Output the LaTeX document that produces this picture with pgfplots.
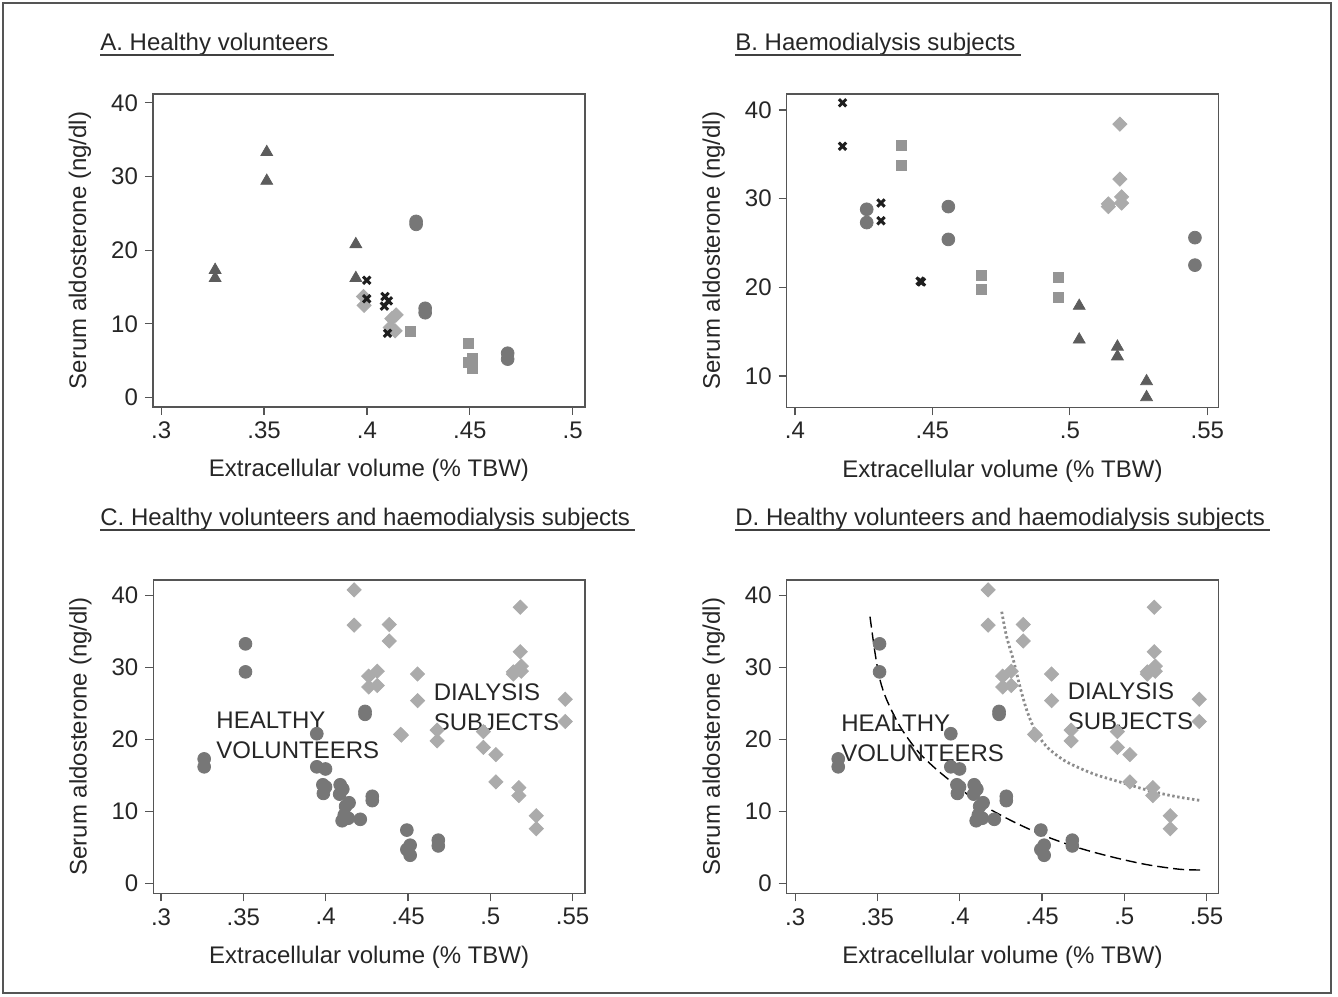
\documentclass[border=0pt]{standalone}
\usepackage{fontspec}
\setmainfont{Liberation Sans}
\usepackage{pgfplots}
\pgfplotsset{compat=1.18}
\usepackage{pgfplotstable}

\definecolor{axgray}{HTML}{555555}
\definecolor{triC}{HTML}{5C5C5C}
\definecolor{cirC}{HTML}{777777}
\definecolor{sqC}{HTML}{959595}
\definecolor{diaC}{HTML}{ABABAB}
\definecolor{xC}{HTML}{1E1E1E}

% panel A: healthy volunteers
\pgfplotstableread{
x y
.3262 17.3
.3262 16.2
.3513 33.3
.3513 29.4
.3946 20.8
.3946 16.2
}\Atri
\pgfplotstableread{
x y
.3999 15.9
.3999 13.4
.4088 13.7
.4104 13.1
.4085 12.4
.4100 8.7
}\Ax
\pgfplotstableread{
x y
.3983 13.7
.3986 12.5
.4121 10.7
.4142 11.2
.4113 9.5
.4137 9.05
}\Adia
\pgfplotstableread{
x y
.4210 8.9
.4493 7.4
.4513 5.3
.4493 4.7
.4513 3.9
}\Asq
\pgfplotstableread{
x y
.4239 23.5
.4239 23.9
.4283 12.1
.4283 11.5
.4684 6.0
.4684 5.2
}\Acir

% panel B: haemodialysis subjects
\pgfplotstableread{
x y
.4173 40.8
.4173 35.9
.4313 29.5
.4313 27.5
.4455 20.7
.4460 20.6
}\Bx
\pgfplotstableread{
x y
.4386 36.0
.4386 33.7
.4677 21.3
.4677 19.8
.4958 21.1
.4958 18.9
}\Bsq
\pgfplotstableread{
x y
.4261 28.8
.4261 27.3
.4558 29.1
.4558 25.4
.5455 25.6
.5455 22.5
}\Bcir
\pgfplotstableread{
x y
.5034 17.9
.5034 14.1
.5173 13.3
.5173 12.2
.5279 9.4
.5279 7.6
}\Btri
\pgfplotstableread{
x y
.5182 38.4
.5182 32.2
.5188 30.2
.5188 29.5
.5140 29.4
.5140 29.1
}\Bdia

% fitted curves in panel D
\pgfplotstableread{
x y
.3455 37.08
.3486 31.98
.3516 28.27
.3557 25.49
.3638 21.78
.3739 18.54
.3840 16.22
.3962 13.90
.4123 11.12
.4326 8.57
.4528 6.49
.4731 4.87
.4933 3.62
.5136 2.60
.5338 1.95
.5476 1.85
}\fitHV
\pgfplotstableread{
x y
.4255 37.77
.4285 34.30
.4326 31.05
.4366 27.35
.4407 24.10
.4457 21.32
.4528 19.00
.4630 17.15
.4731 15.99
.4832 15.06
.4933 14.37
.5034 13.67
.5136 12.98
.5237 12.42
.5338 11.96
.5470 11.49
}\fitHD

\pgfplotsset{
  stata/.style={
    scale only axis, clip=false,
    axis line style={draw=axgray, line width=0.6pt},
    tick style={draw=axgray, line width=0.6pt},
    tick align=outside, major tick length=4pt,
    xtick pos=left, ytick pos=left,
    tick label style={font=\fontsize{12}{14}\selectfont, text=black!85},
    label style={font=\fontsize{12}{14}\selectfont, text=black!85},
    /pgf/number format/assume math mode=true,
    xlabel={Extracellular volume (\% TBW)},
    ylabel={Serum aldosterone (ng/dl)},
    ylabel style={at={(axis description cs:-0.169,0.5)}, anchor=center},
    xlabel style={at={(axis description cs:0.5,-0.203)}, anchor=center},
  },
  mtri/.style={only marks, mark=triangle*, mark size=3.4pt, color=triC},
  mcir/.style={only marks, mark=*, mark size=3.2pt, color=cirC},
  msq/.style={only marks, mark=square*, mark size=2.5pt, color=sqC},
  mdia/.style={only marks, mark=square*, mark size=2.5pt, color=diaC, mark options={rotate=45}},
  mx/.style={only marks, mark=x, mark size=2.6pt, color=xC, mark options={line width=1.5pt}},
}

\begin{document}
\begin{tikzpicture}
\useasboundingbox (0,0) rectangle (669pt,498pt);
\draw[axgray, line width=0.6pt] (1.5pt,1.5pt) rectangle (665.5pt,496.5pt);

\tikzset{ttl/.style={anchor=base west, inner sep=0pt, font=\fontsize{12}{14}\selectfont, text=black!85}}
\node[ttl] (tA) at (50pt,472.5pt) {A. Healthy volunteers};
\node[ttl] (tB) at (367.5pt,472.5pt) {B. Haemodialysis subjects};
\node[ttl] (tC) at (50pt,235pt) {C. Healthy volunteers and haemodialysis subjects};
\node[ttl] (tD) at (367.5pt,235pt) {D. Healthy volunteers and haemodialysis subjects};
\foreach \t in {tA,tB,tC,tD}
  \draw[black!75, line width=1pt] ([yshift=-2.2pt]\t.base west) -- ([yshift=-2.2pt,xshift=2.5pt]\t.base east);

% A
\begin{axis}[stata, at={(76.5pt,294.5pt)}, anchor=south west,
  width=216pt, height=156.5pt,
  xmin=.296, xmax=.506, ymin=-1.3, ymax=41.2,
  xtick={.3,.35,.4,.45,.5}, xticklabels={.3,.35,.4,.45,.5},
  ytick={0,10,20,30,40}]
\addplot[mtri] table {\Atri};
\addplot[mdia] table {\Adia};
\addplot[msq] table {\Asq};
\addplot[mcir] table {\Acir};
\addplot[mx] table {\Ax};
\end{axis}

% B
\begin{axis}[stata, at={(393.35pt,294.35pt)}, anchor=south west,
  width=215.8pt, height=156.65pt,
  xmin=.397, xmax=.554, ymin=6.47, ymax=41.8,
  xtick={.4,.45,.5,.55}, xticklabels={.4,.45,.5,.55},
  ytick={10,20,30,40}]
\addplot[mtri] table {\Btri};
\addplot[mdia] table {\Bdia};
\addplot[msq] table {\Bsq};
\addplot[mcir] table {\Bcir};
\addplot[mx] table {\Bx};
\end{axis}

% C
\begin{axis}[stata, at={(76.65pt,51.35pt)}, anchor=south west,
  width=215.85pt, height=156.65pt,
  xmin=.2953, xmax=.5575, ymin=-1.39, ymax=42.18,
  xtick={.3,.35,.4,.45,.5,.55}, xticklabels={.3,.35,.4,.45,.5,.55},
  ytick={0,10,20,30,40}]
\addplot[mdia] table {\Bdia};
\addplot[mdia] table {\Bsq};
\addplot[mdia] table {\Bcir};
\addplot[mdia] table {\Btri};
\addplot[mdia] table {\Bx};
\addplot[mcir] table {\Atri};
\addplot[mcir] table {\Adia};
\addplot[mcir] table {\Asq};
\addplot[mcir] table {\Acir};
\addplot[mcir] table {\Ax};
\node[ttl] at (axis cs:.3334,21.5) {HEALTHY};
\node[ttl] at (axis cs:.3334,17.3) {VOLUNTEERS};
\node[ttl] at (axis cs:.4654,25.4) {DIALYSIS};
\node[ttl] at (axis cs:.4654,21.2) {SUBJECTS};
\end{axis}

% D
\begin{axis}[stata, at={(393.35pt,51.35pt)}, anchor=south west,
  width=215.8pt, height=156.65pt,
  xmin=.2949, xmax=.5571, ymin=-1.39, ymax=42.18,
  xtick={.3,.35,.4,.45,.5,.55}, xticklabels={.3,.35,.4,.45,.5,.55},
  ytick={0,10,20,30,40}]
\addplot[mdia] table {\Bdia};
\addplot[mdia] table {\Bsq};
\addplot[mdia] table {\Bcir};
\addplot[mdia] table {\Btri};
\addplot[mdia] table {\Bx};
\addplot[mcir] table {\Atri};
\addplot[mcir] table {\Adia};
\addplot[mcir] table {\Asq};
\addplot[mcir] table {\Acir};
\addplot[mcir] table {\Ax};
\addplot[black, line width=0.7pt, dash pattern=on 5.5pt off 2.5pt, smooth, no marks] table {\fitHV};
\addplot[black!45, line width=1.4pt, dash pattern=on 1.2pt off 1.3pt, smooth, no marks] table {\fitHD};
\node[ttl] at (axis cs:.3278,21.15) {HEALTHY};
\node[ttl] at (axis cs:.3278,16.95) {VOLUNTEERS};
\node[ttl] at (axis cs:.4654,25.6) {DIALYSIS};
\node[ttl] at (axis cs:.4654,21.4) {SUBJECTS};
\end{axis}
\end{tikzpicture}
\end{document}
